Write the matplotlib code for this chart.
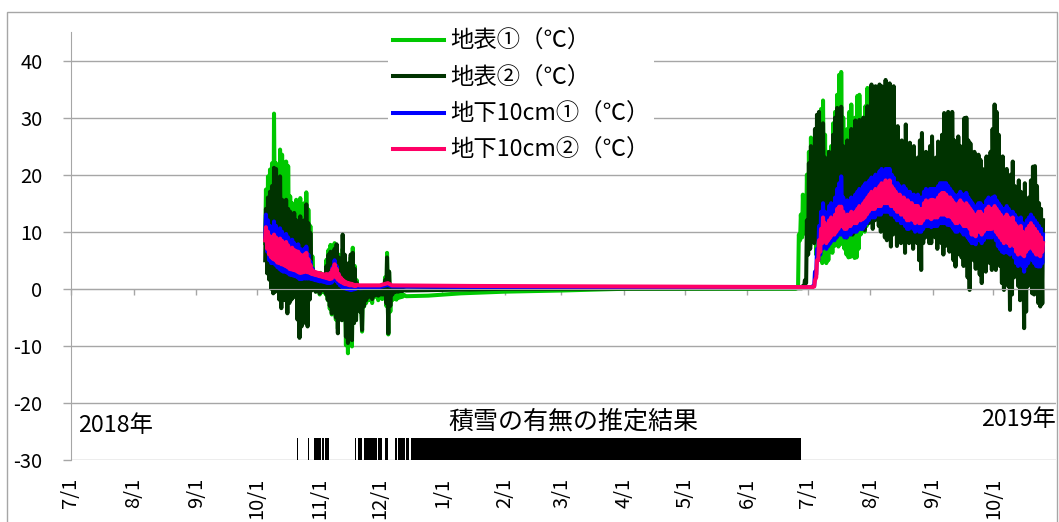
import numpy as np
import matplotlib
matplotlib.use("Agg")
import matplotlib.pyplot as plt
import matplotlib.dates as mdates
from matplotlib.patches import Rectangle

# ---------------------------------------------------------------- data
series_names = ["地表①（℃）", "地表②（℃）", "地下10cm①（℃）", "地下10cm②（℃）"]
series_colors = ["#00c800", "#003300", "#0000ff", "#ff0066"]

# autumn 2018: daily highs / lows starting 2018-10-05
autumn_start = "2018-10-05"
green_aut_hi = [17.4, 19.7, 20.9, 22.0, 30.7, 22.0, 20.0, 24.4, 23.5, 22.1,
                22.3, 21.5, 16.2, 15.0, 14.4, 15.6, 13.3, 15.9, 12.1, 15.0,
                16.9, 13.9, 11.0, 5.7, 2.8, 1.6, 1.9, 2.8, 2.5, 1.6,
                5.1, 6.8, 7.7, 7.4, 8.0, 6.3, 6.0, 4.5, 7.0, 5.0,
                3.0, 4.0, 5.5, 7.2, 4.0, 1.5, 0.5, 0.0, 0.5, 0.2,
                -0.2, 0.0, -0.3, 0.2, -0.5, -0.3, -0.5, -0.4, -0.6, 2.0,
                6.3, 3.0, 0.5, -0.5, -0.8, -0.8, -1.0, -1.0, -1.0]
green_aut_lo = [8.0, 4.0, 3.0, 2.5, 1.5, 2.0, 3.0, 0.5, 0.0, 1.0,
                0.5, -1.0, 1.0, 0.5, 1.0, 1.5, -0.5, -2.0, -1.0, 0.0,
                -1.5, -1.5, 0.5, 0.0, 0.0, -0.5, -0.3, -1.0, -0.6, -0.5,
                -1.0, -2.0, -3.5, -4.5, -3.0, -5.4, -7.0, -4.0, -5.5, -4.0,
                -9.9, -11.3, -8.0, -10.1, -6.0, -5.5, -3.0, -4.0, -7.5, -3.1,
                -2.5, -2.0, -1.9, -2.5, -1.5, -1.3, -2.0, -1.5, -1.8, -1.5,
                -3.0, -8.0, -4.0, -2.0, -1.8, -1.9, -1.6, -1.5, -1.4]
dark_aut_hi = [14.0, 16.0, 17.0, 18.0, 21.2, 21.0, 17.0, 19.7, 15.6, 15.0,
               15.6, 14.0, 13.5, 12.0, 13.3, 12.0, 11.0, 12.7, 10.0, 12.0,
               14.8, 11.5, 9.8, 3.5, 2.0, 1.2, 1.5, 2.0, 1.8, 1.2,
               4.0, 6.0, 6.5, 6.0, 7.0, 7.8, 5.5, 5.0, 9.5, 6.0,
               3.5, 4.5, 6.0, 6.3, 3.5, 1.0, 0.3, 0.0, 0.4, 0.2,
               0.0, 0.1, 0.0, 0.2, -0.2, 0.0, -0.2, 0.0, -0.2, 1.5,
               5.5, 3.0, 0.3, -0.2, -0.2, -0.2, -0.2, -0.2, -0.2]
dark_aut_lo = [5.0, 2.7, 1.6, 0.0, -0.8, -0.5, 0.0, -1.9, -3.4, -1.9,
               -2.0, -4.3, -2.5, -1.9, -1.5, -1.0, -5.4, -8.6, -6.6, -4.0,
               -6.0, -6.6, -1.9, -0.3, 0.0, -0.5, 0.0, -0.8, -0.3, -0.2,
               -0.8, -1.9, -3.0, -4.3, -2.5, -5.0, -7.8, -4.0, -5.5, -4.5,
               -8.4, -9.5, -7.0, -9.0, -6.0, -5.5, -3.5, -4.0, -7.2, -3.0,
               -2.0, -1.5, -1.3, -1.8, -1.2, -1.0, -1.2, -1.0, -1.0, -1.0,
               -2.5, -7.8, -3.0, -1.0, -0.6, -0.5, -0.5, -0.4, -0.4]
blue_aut_hi = [13.0, 12.0, 11.0, 10.8, 11.8, 11.0, 10.2, 10.6, 10.0, 9.4,
               9.6, 9.0, 8.2, 8.6, 8.0, 7.6, 7.8, 7.0, 6.6, 7.0,
               7.4, 6.0, 4.8, 3.6, 3.0, 2.7, 2.6, 2.5, 2.4, 2.3,
               2.4, 2.4, 2.8, 3.8, 5.0, 4.0, 2.6, 1.8, 1.4, 1.0,
               0.8, 0.6, 0.5, 0.4, 0.4, 0.3]
blue_aut_lo = [9.0, 6.5, 5.0, 4.5, 4.5, 4.2, 3.8, 3.5, 3.2, 3.0,
               3.0, 2.8, 2.5, 2.4, 2.3, 2.2, 2.0, 1.7, 1.7, 1.8,
               1.8, 1.8, 1.8, 1.7, 1.6, 1.5, 1.4, 1.3, 1.3, 1.2,
               1.1, 1.0, 1.0, 1.1, 1.5, 1.4, 1.0, 0.6, 0.3, 0.1,
               0.0, -0.1, -0.2, -0.2, -0.1, 0.0]
pink_aut_hi = [10.8, 10.0, 9.2, 9.0, 9.5, 9.0, 8.6, 8.8, 8.4, 8.0,
               8.2, 7.6, 7.0, 7.2, 6.8, 6.6, 6.5, 6.0, 5.8, 6.0,
               6.3, 5.2, 4.2, 3.3, 3.0, 2.9, 2.8, 2.7, 2.6, 2.5,
               2.6, 2.5, 2.8, 3.5, 4.3, 3.5, 2.6, 2.0, 1.6, 1.3,
               1.1, 1.0, 0.9, 0.8, 0.7, 0.7]
pink_aut_lo = [8.5, 7.0, 6.0, 5.5, 5.2, 5.0, 4.6, 4.5, 4.3, 4.2,
               4.0, 3.8, 3.5, 3.4, 3.3, 3.2, 3.0, 2.8, 2.8, 2.9,
               3.0, 2.9, 2.8, 2.6, 2.5, 2.4, 2.3, 2.2, 2.1, 2.0,
               1.9, 1.8, 1.7, 1.8, 2.3, 2.0, 1.6, 1.3, 1.1, 0.9,
               0.8, 0.7, 0.6, 0.6, 0.5, 0.5]

# snow-covered winter: sparse readings
green_win_dates = ["2018-12-14", "2018-12-25", "2019-01-10", "2019-02-01",
                   "2019-03-01", "2019-04-01", "2019-06-25"]
green_win_vals = [-1.3, -1.2, -0.8, -0.5, -0.3, 0.0, 0.0]
dark_win_dates = ["2018-12-14", "2019-01-01", "2019-02-01", "2019-06-27"]
dark_win_vals = [-0.3, -0.2, 0.0, 0.1]
blue_win_dates = ["2018-11-21", "2018-12-01", "2018-12-05", "2018-12-07",
                  "2019-01-15", "2019-07-02"]
blue_win_vals = [0.1, 0.3, 0.7, 0.4, 0.3, 0.25]
pink_win_dates = ["2018-11-21", "2018-12-01", "2018-12-05", "2018-12-07",
                  "2019-01-15", "2019-07-02"]
pink_win_vals = [0.6, 0.6, 1.0, 0.6, 0.5, 0.3]

# summer 2019: daily highs / lows
green_sum_start = "2019-06-26"
green_sum_hi = [9.5, 13.0, 16.5, 14.0, 20.0, 24.0, 26.5, 22.0, 25.0, 28.0,
                30.0, 31.5, 33.0, 27.0, 24.0, 22.0, 25.0, 29.0, 31.0, 34.0,
                37.5, 38.0, 30.0, 25.0, 28.0, 31.0, 32.3, 28.0, 30.0, 33.8,
                34.0, 29.0, 27.0, 32.0, 35.2, 30.0]
green_sum_lo = [0.2, 8.5, 9.0, 10.5, 9.5, 8.0, 7.5, 10.0, 9.0, 6.0,
                7.0, 5.5, 4.5, 6.5, 4.5, 5.0, 7.0, 6.3, 7.5, 8.0,
                7.4, 7.8, 9.0, 7.0, 6.0, 5.5, 5.6, 6.5, 5.4, 5.5,
                7.0, 9.5, 12.0, 10.0, 11.0, 12.0]
dark_sum_start = "2019-06-28"
dark_sum_hi = [0.5, 1.5, 12.0, 22.0, 25.0, 18.0, 28.0, 30.5, 31.0, 26.0,
               29.0, 23.0, 20.0, 24.0, 22.0, 27.0, 30.0, 31.7, 28.0, 31.9,
               25.0, 22.0, 26.0, 22.6, 28.0, 25.0, 29.5, 27.0, 29.6, 24.0,
               30.0, 27.0, 32.0, 29.0, 35.8, 30.0, 35.5, 28.0, 35.8, 35.5,
               33.0, 36.6, 34.0, 36.0, 31.0, 35.5, 24.0, 28.5, 21.0, 26.0,
               24.0, 28.8, 20.0, 25.6, 22.0, 25.0, 18.0, 23.0, 26.0, 27.3,
               21.0, 24.0, 19.0, 25.0, 26.7, 20.0, 23.0, 25.8, 22.0, 27.0,
               30.8, 29.0, 31.0, 30.5, 31.0, 26.0, 24.0, 26.7, 25.0, 22.0,
               29.9, 30.0, 26.0, 25.5, 22.0, 24.0, 20.0, 23.5, 22.6, 21.0,
               18.0, 23.2, 20.0, 24.0, 28.0, 32.3, 31.0, 27.0, 20.0, 23.2,
               19.0, 21.0, 17.0, 20.0, 22.3, 18.0, 15.0, 19.0, 17.0, 14.0,
               18.5, 12.0, 16.0, 19.0, 21.4, 21.5, 18.0, 15.0, 14.0, 12.0]
dark_sum_lo = [0.1, 0.2, 1.0, 6.0, 7.0, 9.0, 8.0, 9.5, 8.5, 10.0,
               7.5, 8.5, 10.0, 9.0, 11.0, 9.5, 10.0, 9.0, 11.0, 10.5,
               12.0, 11.0, 9.0, 10.5, 11.5, 9.5, 10.0, 12.0, 11.0, 13.0,
               12.5, 10.3, 12.0, 11.5, 13.0, 10.5, 12.0, 14.0, 11.0, 10.0,
               12.5, 9.0, 8.5, 10.0, 7.4, 9.5, 12.0, 7.5, 11.0, 8.0,
               11.0, 6.3, 9.5, 8.0, 10.0, 7.0, 11.0, 8.0, 5.0, 3.3,
               8.0, 9.0, 10.5, 8.0, 8.0, 11.0, 9.0, 7.0, 9.5, 8.0,
               6.0, 7.5, 9.0, 6.5, 8.0, 5.0, 3.9, 6.0, 8.0, 5.5,
               4.0, 6.0, 2.0, -0.2, 7.4, 5.0, 3.5, 6.0, 2.5, 1.0,
               4.0, 3.0, 6.0, 4.5, 3.3, 5.0, 3.3, 6.5, 4.0, 1.0,
               -0.2, 2.5, 0.5, -3.7, -1.0, 2.0, 4.0, 0.5, -2.0, 1.5,
               -6.9, -4.0, 0.5, 3.0, -0.8, -1.0, 2.0, -2.5, -3.1, -2.6]
soil_sum_start = "2019-07-03"
blue_sum_hi = [0.5, 3.0, 7.0, 11.0, 13.5, 15.0, 13.5, 12.5, 14.5, 15.0,
               13.5, 16.0, 17.5, 18.5, 19.7, 16.0, 14.5, 15.5, 15.0, 16.0,
               15.5, 16.5, 17.0, 17.5, 16.0, 18.0, 18.5, 18.5, 19.0, 19.5,
               19.0, 20.0, 19.5, 20.6, 21.0, 20.5, 21.0, 21.0, 21.0, 20.0,
               19.5, 18.5, 18.5, 18.0, 17.5, 18.0, 17.5, 17.0, 17.0, 16.5,
               16.5, 16.0, 16.5, 16.0, 16.0, 17.0, 17.5, 17.0, 17.5, 17.5,
               17.5, 17.5, 18.0, 18.5, 18.5, 18.5, 18.5, 18.0, 17.5, 17.0,
               16.5, 16.0, 16.5, 17.0, 16.5, 16.5, 16.8, 16.0, 15.5, 15.0,
               14.0, 14.5, 15.0, 15.0, 14.5, 14.5, 15.5, 16.0, 15.5, 16.0,
               16.2, 15.5, 15.0, 14.5, 14.0, 14.0, 14.5, 14.0, 13.5, 13.5,
               13.0, 12.5, 12.0, 12.5, 11.5, 11.0, 12.0, 12.5, 13.0, 12.5,
               12.0, 11.5, 11.0, 10.5, 9.5]
blue_sum_lo = [0.3, 0.5, 2.5, 5.0, 6.0, 7.0, 7.5, 7.0, 7.5, 8.0,
               8.5, 8.5, 9.0, 9.5, 9.5, 9.5, 9.0, 9.0, 9.5, 9.5,
               10.0, 10.0, 10.0, 10.5, 10.5, 10.5, 11.0, 11.5, 12.0, 12.5,
               12.5, 12.5, 13.0, 13.0, 13.0, 13.5, 13.5, 13.5, 13.5, 13.0,
               13.0, 12.5, 12.0, 12.0, 11.5, 11.5, 11.0, 10.5, 10.5, 11.0,
               10.5, 10.0, 10.5, 10.0, 10.0, 10.5, 11.0, 11.0, 11.0, 10.8,
               11.0, 11.0, 11.0, 11.5, 11.5, 11.5, 11.5, 11.2, 11.2, 11.0,
               10.5, 10.0, 10.0, 10.5, 10.0, 9.5, 9.5, 9.0, 8.5, 8.0,
               8.0, 7.8, 8.5, 8.5, 8.0, 8.5, 9.0, 9.0, 9.0, 9.0,
               9.5, 8.5, 7.5, 7.0, 6.5, 6.3, 6.5, 6.3, 6.0, 6.3,
               5.5, 4.5, 4.0, 4.5, 4.0, 3.0, 4.0, 4.5, 5.5, 5.0,
               4.5, 4.0, 3.9, 3.9, 4.5]
pink_sum_hi = [0.3, 1.5, 5.0, 8.5, 10.5, 12.5, 11.5, 10.5, 12.0, 12.5,
               11.5, 13.0, 14.0, 14.4, 14.4, 13.5, 12.5, 13.0, 13.0, 13.5,
               13.0, 13.5, 14.0, 14.5, 14.0, 15.0, 15.5, 16.0, 16.5, 17.0,
               16.5, 17.5, 17.0, 18.0, 18.5, 18.0, 19.0, 18.5, 19.0, 18.0,
               17.5, 17.0, 16.5, 16.5, 16.0, 16.0, 15.5, 15.5, 15.0, 15.0,
               14.5, 14.5, 14.5, 14.0, 14.0, 15.0, 15.5, 15.0, 15.5, 15.6,
               15.5, 15.5, 16.0, 16.5, 16.8, 16.8, 16.5, 16.0, 16.0, 15.5,
               15.0, 14.5, 15.0, 15.5, 15.0, 14.5, 15.0, 14.5, 14.0, 13.5,
               12.5, 13.0, 13.5, 13.5, 13.0, 13.0, 14.0, 14.4, 14.0, 14.0,
               14.5, 14.0, 13.5, 13.0, 12.5, 12.5, 13.0, 12.5, 12.0, 12.5,
               11.5, 11.0, 10.5, 11.0, 10.0, 9.5, 10.5, 11.0, 11.5, 11.0,
               10.5, 10.0, 9.5, 9.0, 8.0]
pink_sum_lo = [0.2, 0.4, 2.0, 5.0, 6.5, 8.0, 8.5, 8.0, 8.5, 9.0,
               9.5, 9.5, 10.0, 10.5, 11.0, 11.0, 10.5, 10.5, 11.0, 11.0,
               11.5, 11.5, 11.5, 12.0, 12.0, 12.2, 12.5, 13.0, 13.5, 14.0,
               14.0, 14.0, 14.5, 14.5, 14.5, 15.0, 15.0, 15.0, 15.0, 14.5,
               14.5, 14.0, 13.5, 13.5, 13.0, 13.0, 12.5, 12.0, 12.0, 12.5,
               12.0, 11.5, 12.0, 11.5, 11.5, 12.0, 12.5, 12.5, 12.5, 12.2,
               12.5, 12.5, 12.5, 13.0, 13.0, 13.0, 13.0, 12.7, 12.7, 12.5,
               12.0, 11.5, 11.5, 12.0, 11.5, 11.0, 11.0, 11.0, 10.5, 9.5,
               9.5, 9.2, 10.0, 10.0, 9.5, 10.0, 10.5, 10.5, 10.5, 10.5,
               11.0, 10.0, 9.5, 9.0, 8.5, 8.0, 8.5, 8.0, 7.5, 8.0,
               7.5, 6.5, 6.0, 6.5, 6.0, 5.7, 6.5, 7.0, 7.5, 7.0,
               6.5, 6.0, 6.0, 5.7, 6.5]

# estimated snow cover periods
snow_periods = [
    ("2018-10-21T00", "2018-10-21T12"),
    ("2018-10-26T06", "2018-10-26T18"),
    ("2018-10-29T06", "2018-11-01T18"),
    ("2018-11-02T12", "2018-11-03T06"),
    ("2018-11-03T18", "2018-11-06T00"),
    ("2018-11-18T12", "2018-11-19T06"),
    ("2018-11-20T06", "2018-11-22T06"),
    ("2018-11-23T00", "2018-11-29T12"),
    ("2018-11-30T00", "2018-12-02T00"),
    ("2018-12-03T12", "2018-12-05T00"),
    ("2018-12-08T12", "2018-12-09T12"),
    ("2018-12-10T00", "2018-12-13T12"),
    ("2018-12-14T00", "2018-12-15T12"),
    ("2018-12-16T12", "2019-06-27T12"),
]

month_labels = ["7/1", "8/1", "9/1", "10/1", "11/1", "12/1", "1/1", "2/1",
                "3/1", "4/1", "5/1", "6/1", "7/1", "8/1", "9/1", "10/1"]
y_ticks = [-30, -20, -10, 0, 10, 20, 30, 40]


# ---------------------------------------------------------------- helpers
def diurnal(start, highs, lows):
    """Interleave daily lows (early morning) and highs (afternoon)."""
    days = np.datetime64(start, "h") + np.arange(len(highs)) * np.timedelta64(24, "h")
    t = np.stack([days + np.timedelta64(5, "h"), days + np.timedelta64(14, "h")], axis=1).ravel()
    v = np.stack([np.asarray(lows, float), np.asarray(highs, float)], axis=1).ravel()
    return t, v


def assemble(aut, win_dates, win_vals, summ):
    t_a, v_a = aut
    t_w = np.array(win_dates, dtype="datetime64[h]")
    v_w = np.asarray(win_vals, float)
    t_s, v_s = summ
    return np.concatenate([t_a, t_w, t_s]), np.concatenate([v_a, v_w, v_s])


series = [
    assemble(diurnal(autumn_start, green_aut_hi, green_aut_lo), green_win_dates, green_win_vals,
             diurnal(green_sum_start, green_sum_hi, green_sum_lo)),
    assemble(diurnal(autumn_start, dark_aut_hi, dark_aut_lo), dark_win_dates, dark_win_vals,
             diurnal(dark_sum_start, dark_sum_hi, dark_sum_lo)),
    assemble(diurnal(autumn_start, blue_aut_hi, blue_aut_lo), blue_win_dates, blue_win_vals,
             diurnal(soil_sum_start, blue_sum_hi, blue_sum_lo)),
    assemble(diurnal(autumn_start, pink_aut_hi, pink_aut_lo), pink_win_dates, pink_win_vals,
             diurnal(soil_sum_start, pink_sum_hi, pink_sum_lo)),
]

# ---------------------------------------------------------------- figure
plt.rcParams["font.family"] = ["Noto Sans CJK JP", "DejaVu Sans"]
plt.rcParams["axes.unicode_minus"] = False
FS = 14.5        # tick labels
FS_TXT = 16.8    # legend and year labels
FS_TITLE = 18.0  # snow-cover caption
GRID = "#a6a6a6"

W, H = 1059, 522
fig = plt.figure(figsize=(W / 100, H / 100), dpi=100)
ax = fig.add_axes([71 / W, 62 / H, 985 / W, 428 / H])

# outer chart frame
fig.add_artist(Rectangle((7 / W, -0.05), 1050 / W, (H - 12) / H + 0.05,
                         transform=fig.transFigure, fill=False,
                         edgecolor=GRID, lw=1.0))

for (t, v), name, col in zip(series, series_names, series_colors):
    ax.plot(t, v, color=col, lw=2.9, label=name, solid_joinstyle="round")

for s, e in snow_periods:
    ax.fill_between([np.datetime64(s), np.datetime64(e)], -30, -26.2,
                    color="black", lw=0, zorder=3)

tick_dates = np.arange(np.datetime64("2018-07"), np.datetime64("2019-11"),
                       np.timedelta64(1, "M")).astype("datetime64[D]")

ax.set_xlim(np.datetime64("2018-07-01"), np.datetime64("2019-11-01"))
ax.set_ylim(-30, 45)
ax.set_yticks(y_ticks)
ax.set_axisbelow(True)
ax.yaxis.grid(True, color=GRID, lw=1.0)

ax.spines["top"].set_visible(False)
ax.spines["right"].set_visible(False)
ax.spines["left"].set_color(GRID)
ax.spines["bottom"].set_color(GRID)
ax.spines["bottom"].set_position(("data", 0))

ax.set_xticks(tick_dates)
ax.tick_params(axis="x", length=4, width=1, color=GRID, labelbottom=False)
ax.tick_params(axis="y", length=5.5, width=1, color=GRID, pad=15, labelsize=FS)

sec = ax.secondary_xaxis("bottom")
sec.set_xticks(mdates.date2num(tick_dates), labels=month_labels)
sec.tick_params(length=0, pad=13, labelrotation=90, labelsize=FS)
sec.spines["bottom"].set_visible(False)

ax.text((78 - 71) / 985, (460 - 425) / 428, "2018年", transform=ax.transAxes,
        ha="left", va="center", fontsize=FS_TXT)
ax.text(1.0, (460 - 420) / 428, "2019年", transform=ax.transAxes,
        ha="right", va="center", fontsize=FS_TXT)
ax.text((573 - 71) / 985, (460 - 422) / 428, "積雪の有無の推定結果",
        transform=ax.transAxes, ha="center", va="center", fontsize=FS_TITLE)

ax.legend(loc="upper left", bbox_to_anchor=(388 / W, (H - 25.5) / H),
          bbox_transform=fig.transFigure, frameon=True, fancybox=False,
          edgecolor="none", facecolor="white", framealpha=1,
          borderpad=0.2, borderaxespad=0, handlelength=2.2,
          handletextpad=0.27, labelspacing=0.57, fontsize=FS_TXT)

fig.savefig("out.png", dpi=100)
